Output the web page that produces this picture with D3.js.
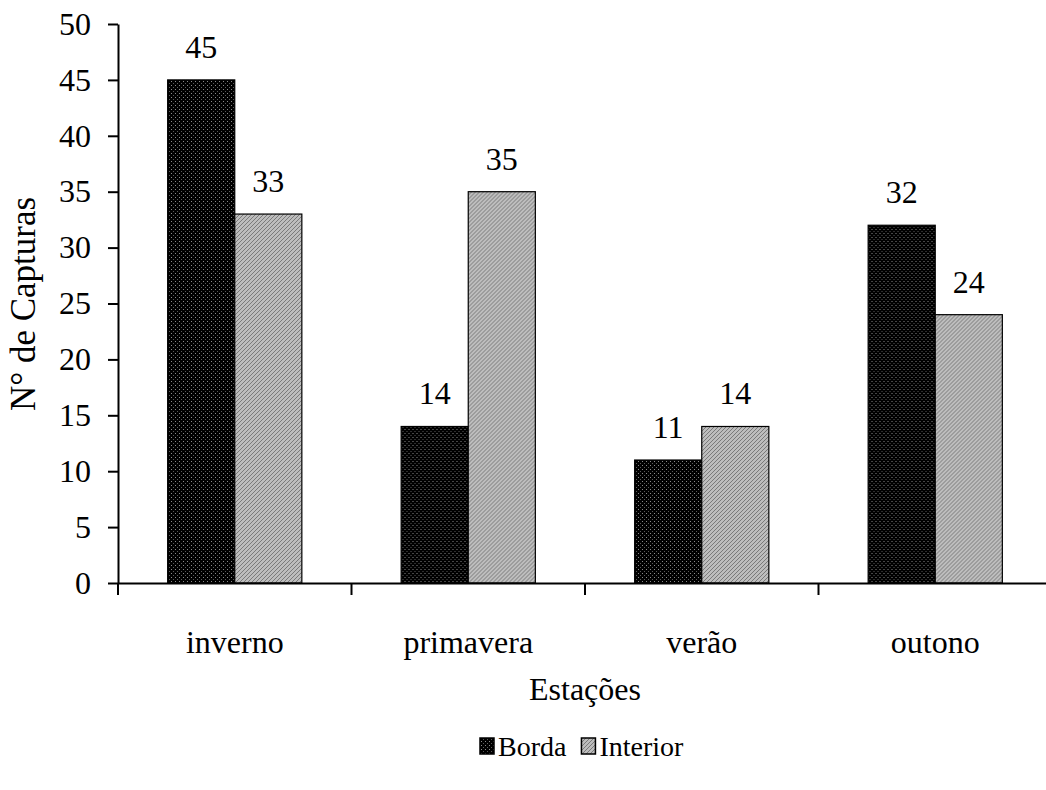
<!DOCTYPE html>
<html>
<head>
<meta charset="utf-8">
<script src="https://cdn.jsdelivr.net/npm/d3@7"></script>
<style>
  body { margin: 0; background: #fff; }
  text { font-family: "Liberation Serif", "Times New Roman", serif; fill: #000; }
</style>
</head>
<body>
<script>
// data
var seasons = ["inverno", "primavera", "verão", "outono"];
var series = ["Borda", "Interior"];
var borda = [45, 14, 11, 32];
var interior = [33, 35, 14, 24];
var yTicks = [0, 5, 10, 15, 20, 25, 30, 35, 40, 45, 50];

var width = 1046,
    height = 790;

var svg = d3.select("body")
    .append("svg")
    .attr("width", width)
    .attr("height", height);

// fill patterns like the old excel chart
var defs = svg.append("defs");
var pb = defs.append("pattern")
    .attr("id", "patBorda")
    .attr("patternUnits", "userSpaceOnUse")
    .attr("width", 4).attr("height", 4);
pb.append("rect").attr("width", 4).attr("height", 4).attr("fill", "#000");
pb.append("rect").attr("x", 1).attr("y", 1).attr("width", 1).attr("height", 1).attr("fill", "#8a8a8a");
pb.append("rect").attr("x", 3).attr("y", 3).attr("width", 1).attr("height", 1).attr("fill", "#5a5a5a");

var pi = defs.append("pattern")
    .attr("id", "patInterior")
    .attr("patternUnits", "userSpaceOnUse")
    .attr("width", 4).attr("height", 4);
pi.append("rect").attr("width", 4).attr("height", 4).attr("fill", "#bdbdbd");
pi.append("path").attr("d", "M-1,1 L1,-1 M0,4 L4,0 M3,5 L5,3")
    .attr("stroke", "#7a7a7a").attr("stroke-width", 1);

var fills = {Borda: "url(#patBorda)", Interior: "url(#patInterior)"};

var plotLeft = 118, plotTop = 24, plotBottom = 583;
var x = d3.scaleBand()
    .domain(seasons)
    .range([plotLeft, plotLeft + 4 * 233.5]);

var xs = d3.scaleBand()
    .domain(series)
    .range([0, x.bandwidth()])
    .paddingOuter(0.74);

var y = d3.scaleLinear()
    .domain([0, 50])
    .range([plotBottom, plotTop]);

var rows = seasons.map(function(s, i){
    return {season: s, values: [
        {key: "Borda", value: borda[i]},
        {key: "Interior", value: interior[i]}
    ]};
});

// bars
var groups = svg.selectAll(".grp")
    .data(rows)
    .enter()
    .append("g")
    .attr("class", "grp")
    .attr("transform", function(d){ return "translate(" + x(d.season) + ",0)"; });

groups.selectAll("rect")
    .data(function(d){ return d.values; })
    .enter()
    .append("rect")
    .attr("x", function(d){ return xs(d.key); })
    .attr("y", function(d){ return y(d.value); })
    .attr("width", xs.bandwidth())
    .attr("height", function(d){ return plotBottom - y(d.value); })
    .attr("fill", function(d){ return fills[d.key]; })
    .attr("stroke", "#000")
    .attr("stroke-width", 1.2);

groups.selectAll(".val")
    .data(function(d){ return d.values; })
    .enter()
    .append("text")
    .attr("class", "val")
    .attr("x", function(d){ return xs(d.key) + xs.bandwidth() / 2; })
    .attr("y", function(d){ return y(d.value) - 22; })
    .attr("text-anchor", "middle")
    .style("font-size", "32px")
    .text(function(d){ return d.value; });

// y axis
var yAxis = svg.append("g")
    .attr("transform", "translate(" + plotLeft + ",0)")
    .call(d3.axisLeft(y).tickValues(yTicks).tickSize(10).tickSizeOuter(0).tickPadding(17));
yAxis.selectAll("text").style("font-size", "32px").style("font-family", "Liberation Serif");
yAxis.selectAll("line, path").attr("stroke", "#000").attr("stroke-width", 2);

// x axis: labels centred, ticks on the boundaries
var xAxis = svg.append("g")
    .attr("transform", "translate(0," + plotBottom + ")")
    .call(d3.axisBottom(x).tickSize(0).tickSizeOuter(0).tickPadding(47));
xAxis.selectAll("text").style("font-size", "32px").style("font-family", "Liberation Serif");
xAxis.select(".domain").attr("stroke", "#000").attr("stroke-width", 2);

xAxis.selectAll(".bound")
    .data(seasons)
    .enter()
    .append("line")
    .attr("class", "bound")
    .attr("x1", function(d){ return x(d); })
    .attr("x2", function(d){ return x(d); })
    .attr("y1", 0)
    .attr("y2", 12)
    .attr("stroke", "#000")
    .attr("stroke-width", 2);

// axis titles
svg.append("text")
    .attr("x", (plotLeft + x.range()[1]) / 2)
    .attr("y", 700)
    .attr("text-anchor", "middle")
    .style("font-size", "32px")
    .text("Estações");

svg.append("text")
    .attr("transform", "translate(35,304) rotate(-90)")
    .attr("text-anchor", "middle")
    .style("font-size", "35px")
    .text("N° de Capturas");

// legend
var legend = svg.append("g").attr("class", "legend");
var lx = 480, ly = 746;
series.forEach(function(s){
    legend.append("rect")
        .attr("x", lx).attr("y", ly - 8)
        .attr("width", 14).attr("height", 16)
        .attr("fill", fills[s])
        .attr("stroke", "#000")
        .attr("stroke-width", 1.5);
    var t = legend.append("text")
        .attr("x", lx + 18)
        .attr("y", ly + 10)
        .style("font-size", "28px")
        .text(s);
    lx += 18 + t.node().getComputedTextLength() + 15;
});
</script>
</body>
</html>
